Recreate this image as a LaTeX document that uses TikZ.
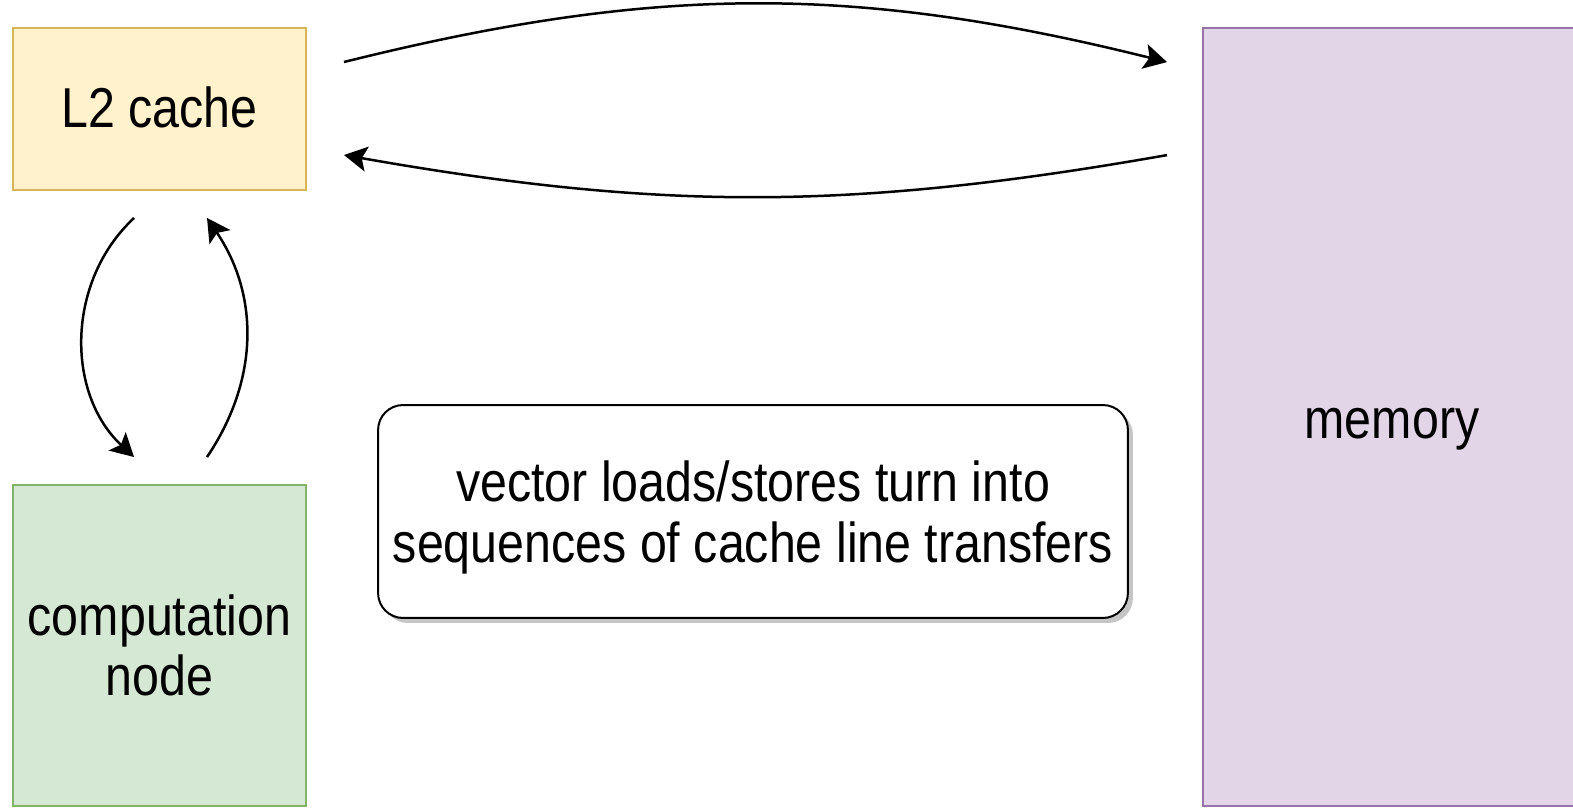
\documentclass[tikz,border=0pt]{standalone}
\usepackage{fontspec}
\setmainfont{Liberation Sans}[FakeStretch=0.86]
\usepackage{tikz}
\usetikzlibrary{arrows.meta,positioning,calc,shadows}
\definecolor{cachefill}{HTML}{FFF2CC}
\definecolor{cacheline}{HTML}{D6B656}
\definecolor{compfill}{HTML}{D5E8D4}
\definecolor{compline}{HTML}{82B366}
\definecolor{memfill}{HTML}{E1D5E7}
\definecolor{memline}{HTML}{9673A6}

\begin{document}
\begin{tikzpicture}[x=0.02cm,y=-0.02cm,
    unit/.style={draw, line width=0.04cm, inner sep=0pt, align=center,
      font=\fontsize{32}{34.5}\selectfont},
    note/.style={unit, draw=black, fill=white, rounded corners=0.5cm,
      drop shadow={shadow xshift=0.1cm, shadow yshift=-0.1cm, fill=black!45}},
    flow/.style={line width=0.05cm, -{Stealth[length=0.46cm,width=0.5cm,inset=0.1cm]}}]
    \useasboundingbox (0,0) rectangle (1573,808);
    \node[unit, fill=cachefill, draw=cacheline, minimum width=5.86cm, minimum height=3.24cm,
      text height=20.5pt, text depth=0pt]
      (l2) at (159.5,109) {L2 cache};
    \node[unit, fill=compfill, draw=compline, minimum width=5.86cm, minimum height=6.42cm]
      (comp) at (159.5,645.5) {computation\\node};
    \node[unit, fill=memfill, draw=memline, minimum width=7.56cm, minimum height=15.56cm,
      text height=24pt, text depth=0pt]
      (mem) at (1392,417) {memory};
    \node[note, minimum width=15cm, minimum height=4.26cm]
      (msg) at (753,511.5) {\rule{0pt}{30pt}vector loads/stores turn into\\sequences of cache line transfers};
    \coordinate (l2top) at ($(l2.north east)+(37,35)$);
    \coordinate (l2bot) at ($(l2.north east)+(37,128)$);
    \coordinate (memtop) at ($(mem.north west)+(-35,35)$);
    \coordinate (membot) at ($(mem.north west)+(-35,128)$);
    \coordinate (dnA) at ($(l2.south west)+(122,27)$);
    \coordinate (dnB) at ($(comp.north west)+(122,-27)$);
    \coordinate (upA) at ($(comp.north west)+(195,-27)$);
    \coordinate (upB) at ($(l2.south west)+(195,27)$);
    \draw[flow] (l2top) to[bend left=14] (memtop);
    \draw[flow] (membot) to[bend left=10] (l2bot);
    \draw[flow] (dnA) to[bend right=47] (dnB);
    \draw[flow] (upA) to[bend right=34] (upB);
  \end{tikzpicture}
\end{document}
